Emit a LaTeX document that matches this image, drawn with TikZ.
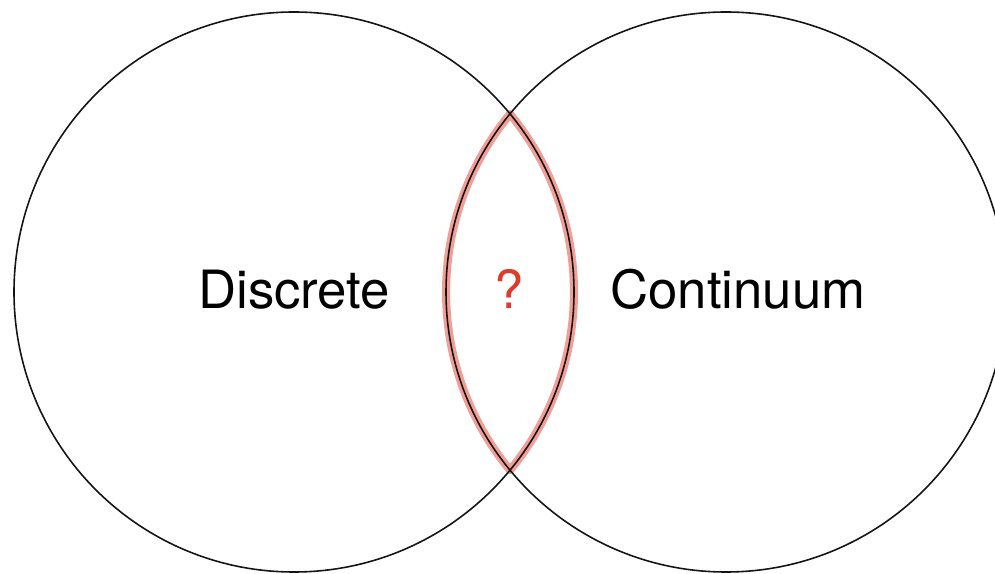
\documentclass[tikz,border=0pt]{standalone}
\usepackage{fontspec}
\setmainfont{TeX Gyre Heros}
\usepackage{xcolor}
\usepackage{tikz}
\usetikzlibrary{calc}
\definecolor{ink}{RGB}{20,20,20}
\definecolor{lensred}{RGB}{240,158,150}
\definecolor{qred}{RGB}{226,58,40}

\begin{document}
\begin{tikzpicture}[x=0.01cm,y=0.01cm]
\tikzset{ring/.style={draw=ink,line width=0.45pt},
  lens/.style={draw=lensred,line width=2.3pt,line join=round},
  word/.style={font=\fontsize{15}{18}\selectfont,text=black,anchor=base,inner sep=0pt}}
\useasboundingbox (0,0) rectangle (995,573);
\clip (0,0) rectangle (995,573);
\coordinate (lc) at (294,281);
\coordinate (rc) at (726,281);
\coordinate (tp) at (510,459);
% overlap highlight
\draw[lens,xshift=-0.25mm] (tp) arc[start angle=39.5,end angle=-39.5,radius=280]
  arc[start angle=219.5,end angle=140.5,radius=280] -- cycle;
\draw[ring] (lc) circle[radius=280];
\draw[ring] (rc) circle[radius=280];
\node[word] (disc) at (294,264) {Discrete};
\node[word] (cont) at (738,264) {Continuum};
\node[word,text=qred] (q) at (509,264) {?};
\end{tikzpicture}
\end{document}
